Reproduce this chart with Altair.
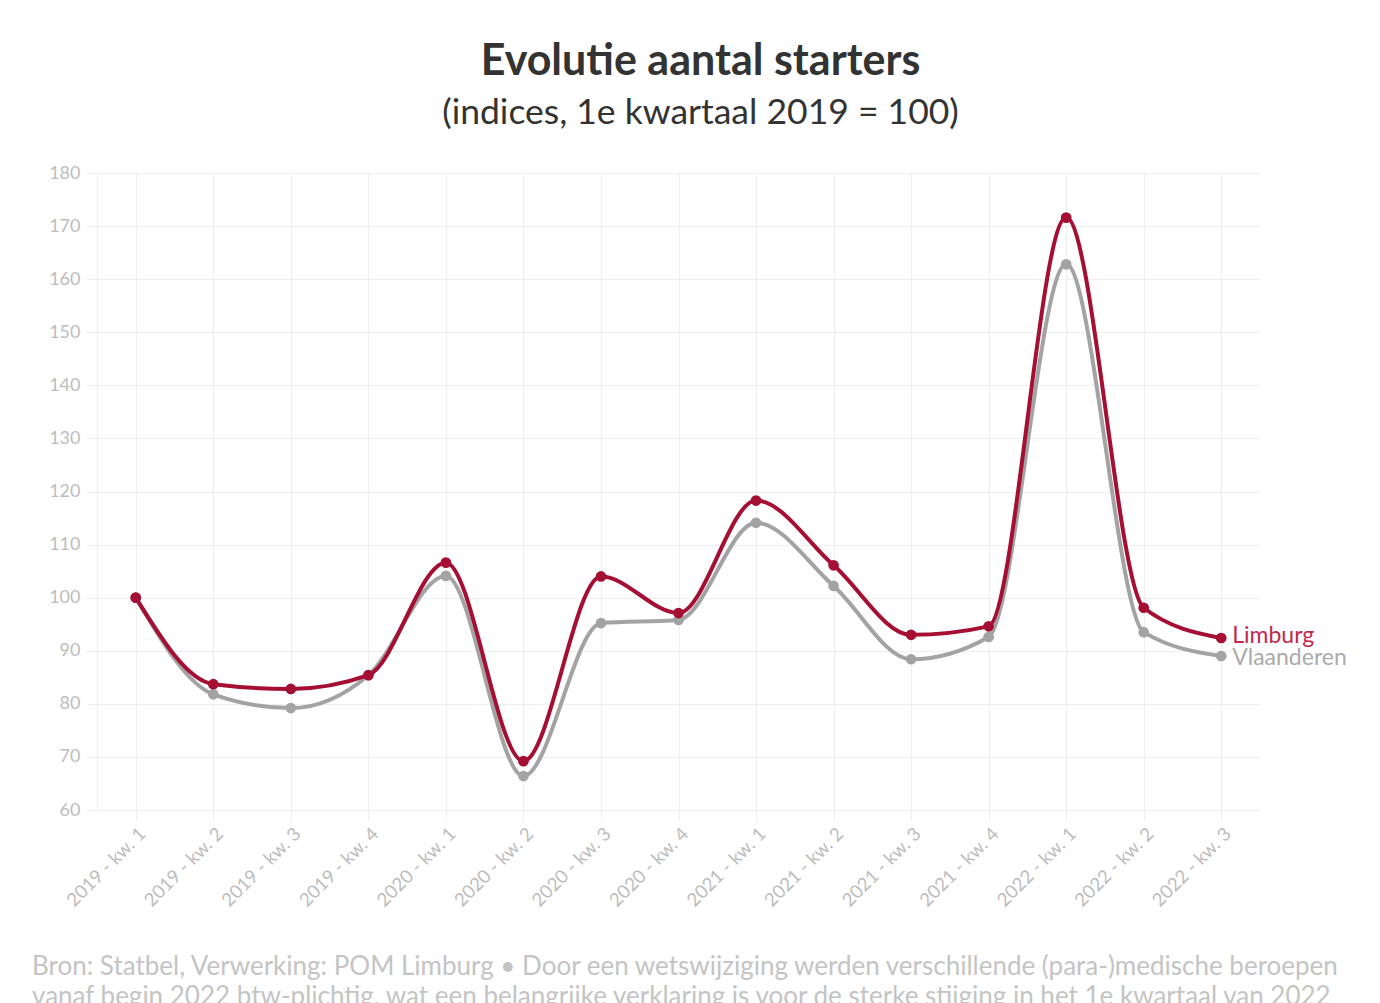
import altair as alt
import pandas as pd

quarters = ["2019 - kw. 1", "2019 - kw. 2", "2019 - kw. 3", "2019 - kw. 4",
            "2020 - kw. 1", "2020 - kw. 2", "2020 - kw. 3", "2020 - kw. 4",
            "2021 - kw. 1", "2021 - kw. 2", "2021 - kw. 3", "2021 - kw. 4",
            "2022 - kw. 1", "2022 - kw. 2", "2022 - kw. 3"]
limburg = [100, 83.7, 82.8, 85.4, 106.6, 69.2, 104.0, 97.1, 118.3, 106.1, 93.0, 94.6, 171.6, 98.1, 92.4]
vlaanderen = [100, 81.8, 79.2, 85.4, 104.1, 66.4, 95.2, 95.8, 114.1, 102.2, 88.4, 92.6, 162.8, 93.5, 89.0]
series = ["Vlaanderen", "Limburg"]
colors = ["#a3a3a3", "#a50f34"]
label_colors = ["#ababab", "#c0294d"]
label_dy = [2, -2]

footer_lines = [
    "Bron: Statbel, Verwerking: POM Limburg \u2022 Door een wetswijziging werden verschillende (para-)medische beroepen",
    "vanaf begin 2022 btw-plichtig, wat een belangrijke verklaring is voor de sterke stijging in het 1e kwartaal van 2022",
]

rows = []
for name, vals in (("Vlaanderen", vlaanderen), ("Limburg", limburg)):
    for q, v in zip(quarters, vals):
        rows.append({"kwartaal": q, "index": v, "reeks": name})
df = pd.DataFrame(rows)

FONT = "Lato"

x_enc = alt.X("kwartaal:N", sort=quarters, title=None,
              scale=alt.Scale(type="point", padding=0.5),
              axis=alt.Axis(labelAngle=-45, labelColor="#bdbdbd", labelFontSize=18.5,
                            labelPadding=3, grid=True, gridColor="#efefef",
                            ticks=True, tickColor="#efefef", tickSize=11,
                            domain=False, labelFont=FONT))
y_enc = alt.Y("index:Q", title=None,
              scale=alt.Scale(domain=[60, 180], nice=False),
              axis=alt.Axis(values=list(range(60, 181, 10)), labelColor="#bdbdbd",
                            labelFontSize=18, labelPadding=6, grid=True,
                            gridColor="#efefef", tickColor="#efefef", tickSize=11,
                            domain=True, domainColor="#efefef", labelFont=FONT))

layers = []
for name, col, lcol, ddy in zip(series, colors, label_colors, label_dy):
    b = alt.Chart(df).transform_filter(alt.datum.reeks == name)
    layers.append(b.mark_line(interpolate="monotone", strokeWidth=4, color=col)
                  .encode(x=x_enc, y=y_enc))
    layers.append(b.mark_point(filled=True, size=115, opacity=1, color=col)
                  .encode(x=x_enc, y=y_enc))
    layers.append(b.transform_filter(alt.datum.kwartaal == quarters[-1])
                  .mark_text(align="left", baseline="middle", dx=11, dy=ddy, fontSize=23,
                             font=FONT, color=lcol)
                  .encode(x=x_enc, y=y_enc, text="reeks:N"))

footer = alt.Chart(pd.DataFrame({"t": ["\n".join(footer_lines)]})).mark_text(
    align="left", baseline="middle", fontSize=26, font=FONT, color="#c4c4c4",
    lineBreak="\n", lineHeight=30
).encode(x=alt.value(-65), y=alt.value(794), text="t:N")
layers.append(footer)

chart = alt.layer(*layers).properties(
    width=1163, height=637,
    autosize=alt.AutoSizeParams(type="none"),
    padding={"left": 89, "top": 165, "right": 100, "bottom": 200},
    title=alt.TitleParams(
        text="Evolutie aantal starters",
        subtitle="(indices, 1e kwartaal 2019 = 100)",
        anchor="middle", dx=22, offset=33,
        font=FONT, fontSize=43, fontWeight="bold", color="#333333",
        subtitleFont=FONT, subtitleFontSize=35.5, subtitleColor="#333333",
        subtitlePadding=12,
    ),
).configure(font=FONT).configure_view(strokeWidth=0, stroke="transparent")

chart.save("out.html", embed_options={"renderer": "svg", "actions": False})
